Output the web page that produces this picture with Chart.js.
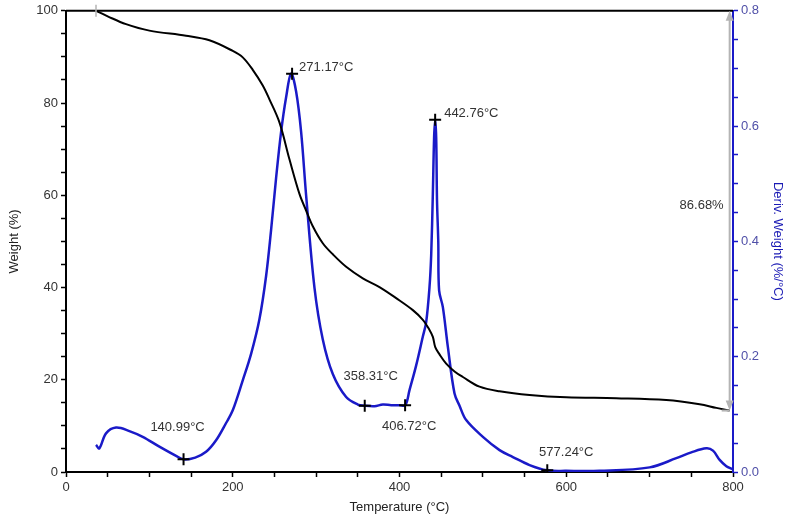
<!DOCTYPE html>
<html>
<head>
<meta charset="utf-8">
<script src="https://cdn.jsdelivr.net/npm/chart.js@4.4.1/dist/chart.umd.min.js"></script>
<style>
  html, body { margin: 0; padding: 0; background: #fff; }
  #wrap { width: 797px; height: 516px; }
</style>
</head>
<body>
<div id="wrap"><canvas id="graphCanvas"></canvas></div>
<script>
// weight curve (black)
const weightTemp = [36, 50, 72, 100, 144, 172, 200, 212, 224, 236, 244, 256, 268, 280, 288, 296, 308, 320, 336, 356, 376, 396, 416, 428, 436, 440, 443, 448, 456, 466, 476, 496, 520, 556, 600, 660, 720, 760, 780, 796];
const weightVal  = [100, 98.8, 97.1, 95.7, 94.6, 93.6, 91.3, 89.9, 87.2, 83.8, 80.8, 75.8, 67.8, 60.3, 56.7, 53.3, 49.6, 47.2, 44.5, 42.0, 40.1, 37.7, 35.1, 33.0, 30.8, 29.3, 27.0, 25.5, 23.5, 21.8, 20.6, 18.5, 17.5, 16.7, 16.2, 16.0, 15.6, 14.7, 13.9, 13.32];

// derivative curve (blue)
const derivTemp = [36, 40, 48, 60, 76, 92, 112, 132, 141, 155, 168, 180, 192, 200, 212, 222, 232, 240, 246, 252, 258, 264, 270, 276, 282, 288, 298, 308, 320, 336, 350, 358, 370, 380, 390, 400, 407, 412, 420, 428, 432, 436, 438, 440, 441.5, 442.8, 444, 445, 446.5, 447.5, 452, 458, 466, 472, 480, 500, 520, 536, 556, 577, 600, 640, 700, 732, 750, 768, 776, 784, 792, 799];
const derivVal  = [0.047, 0.041, 0.067, 0.077, 0.071, 0.061, 0.044, 0.028, 0.022, 0.025, 0.035, 0.055, 0.085, 0.107, 0.159, 0.205, 0.265, 0.34, 0.42, 0.51, 0.59, 0.65, 0.691, 0.66, 0.59, 0.48, 0.32, 0.23, 0.17, 0.13, 0.117, 0.115, 0.114, 0.117, 0.116, 0.116, 0.116, 0.142, 0.185, 0.235, 0.26, 0.321, 0.376, 0.483, 0.58, 0.611, 0.58, 0.471, 0.40, 0.315, 0.286, 0.217, 0.136, 0.115, 0.09, 0.061, 0.038, 0.026, 0.012, 0.003, 0.002, 0.002, 0.008, 0.024, 0.034, 0.041, 0.037, 0.021, 0.01, 0.005];

// marked peaks / valleys on derivative curve
const markTemp  = [140.99, 271.17, 358.31, 406.72, 442.76, 577.24];
const markDeriv = [0.022, 0.691, 0.115, 0.116, 0.611, 0.003];
const markText  = ['140.99°C', '271.17°C', '358.31°C', '406.72°C', '442.76°C', '577.24°C'];

// weight loss step
const lossStart = [36, 100];
const lossEnd   = [796, 13.32];
const lossText  = '86.68%';

const xTicks  = [0, 200, 400, 600, 800];
const yTicks  = [0, 20, 40, 60, 80, 100];
const y2Ticks = [0, 0.2, 0.4, 0.6, 0.8];

const FONT = "'Liberation Sans', Arial, sans-serif";

// label placement relative to the marker (px): dx, dy, align
const labelPos = [
  [-6, -32, 'center'],
  [7, -6, 'left'],
  [6, -29, 'center'],
  [4, 21, 'center'],
  [9, -6, 'left'],
  [19, -18, 'center']
];

const pairs = (xs, ys) => xs.map((x, i) => ({ x: x, y: ys[i] }));
const isTick = (v, list) => list.some(t => Math.abs(t - v) < 1e-6);

const extras = {
  id: 'extras',
  afterDatasetsDraw(chart) {
    const { ctx, chartArea, scales } = chart;
    const x = scales.x, y = scales.y, y2 = scales.y2;
    ctx.save();

    // top frame
    ctx.strokeStyle = '#000';
    ctx.lineWidth = 2;
    ctx.beginPath();
    ctx.moveTo(chartArea.left, chartArea.top);
    ctx.lineTo(chartArea.right, chartArea.top);
    ctx.stroke();

    // weight loss arrow
    const ax = x.getPixelForValue(lossEnd[0]);
    const ay1 = y.getPixelForValue(lossStart[1]);
    const ay2 = y.getPixelForValue(lossEnd[1]);
    ctx.strokeStyle = '#b4b4b4';
    ctx.fillStyle = '#b4b4b4';
    ctx.lineWidth = 2;
    ctx.beginPath();
    ctx.moveTo(ax, ay1 + 4);
    ctx.lineTo(ax, ay2 - 4);
    ctx.stroke();
    ctx.beginPath();
    ctx.moveTo(ax, ay1); ctx.lineTo(ax - 4, ay1 + 10); ctx.lineTo(ax + 4, ay1 + 10); ctx.closePath();
    ctx.fill();
    ctx.beginPath();
    ctx.moveTo(ax, ay2); ctx.lineTo(ax - 4, ay2 - 10); ctx.lineTo(ax + 4, ay2 - 10); ctx.closePath();
    ctx.fill();
    ctx.beginPath();
    ctx.moveTo(ax - 8, ay2); ctx.lineTo(ax, ay2);
    ctx.stroke();
    // start tick
    const sx = x.getPixelForValue(lossStart[0]);
    ctx.lineWidth = 1.5;
    ctx.beginPath();
    ctx.moveTo(sx, ay1 - 6); ctx.lineTo(sx, ay1 + 6);
    ctx.stroke();

    ctx.font = '13px ' + FONT;
    ctx.fillStyle = '#333';
    ctx.textBaseline = 'middle';
    ctx.textAlign = 'right';
    ctx.fillText(lossText, ax - 6, (ay1 + ay2) / 2 - 5);

    // marker labels
    markTemp.forEach((t, i) => {
      const px = x.getPixelForValue(t);
      const py = y2.getPixelForValue(markDeriv[i]);
      const p = labelPos[i];
      ctx.textAlign = p[2];
      ctx.fillText(markText[i], px + p[0], py + p[1]);
    });
    ctx.restore();
  }
};

new Chart(document.getElementById('graphCanvas'), {
  type: 'line',
  data: {
    datasets: [
      {
        label: 'marks',
        type: 'scatter',
        data: pairs(markTemp, markDeriv),
        yAxisID: 'y2',
        pointStyle: 'cross',
        pointRadius: 6,
        pointBorderWidth: 2,
        borderColor: '#000',
        backgroundColor: '#000'
      },
      {
        label: 'Weight',
        data: pairs(weightTemp, weightVal),
        yAxisID: 'y',
        borderColor: '#000',
        borderWidth: 2,
        pointRadius: 0,
        tension: 0.35
      },
      {
        label: 'Deriv. Weight',
        data: pairs(derivTemp, derivVal),
        yAxisID: 'y2',
        borderColor: '#1a1ac8',
        borderWidth: 2.5,
        pointRadius: 0,
        tension: 0.35
      }
    ]
  },
  options: {
    responsive: true,
    maintainAspectRatio: false,
    animation: false,
    layout: { padding: { top: 10, left: 0, right: 0, bottom: 0 } },
    plugins: { legend: { display: false }, tooltip: { enabled: false } },
    scales: {
      x: {
        type: 'linear',
        min: 0, max: 800,
        afterFit: s => { s.height = 44; },
        border: { color: '#000', width: 2 },
        grid: { drawOnChartArea: false, tickLength: 5, tickColor: '#000', tickWidth: 1.5 },
        ticks: {
          stepSize: 50, padding: 3, maxRotation: 0, autoSkip: false,
          color: '#333', font: { family: FONT, size: 13 },
          callback: v => isTick(v, xTicks) ? String(v) : ''
        },
        title: { display: true, text: 'Temperature (°C)', color: '#222', font: { family: FONT, size: 13 }, padding: { top: 0, bottom: 1 } }
      },
      y: {
        position: 'left',
        min: 0, max: 100,
        afterFit: s => { s.width = 66; },
        border: { color: '#000', width: 2 },
        grid: { drawOnChartArea: false, tickLength: 5, tickColor: '#000', tickWidth: 1.5 },
        ticks: {
          stepSize: 5, padding: 3, autoSkip: false,
          color: '#333', font: { family: FONT, size: 13 },
          callback: v => isTick(v, yTicks) ? String(v) : ''
        },
        title: { display: true, text: 'Weight (%)', color: '#222', font: { family: FONT, size: 13 }, padding: { top: 7, bottom: 0 } }
      },
      y2: {
        position: 'right',
        min: 0, max: 0.8,
        afterFit: s => { s.width = 64; },
        border: { color: '#1a1ac8', width: 2 },
        grid: { drawOnChartArea: false, tickLength: 5, tickColor: '#1a1ac8', tickWidth: 1.5 },
        ticks: {
          stepSize: 0.05, padding: 3, autoSkip: false,
          color: '#5050a8', font: { family: FONT, size: 13 },
          callback: v => isTick(v, y2Ticks) ? v.toFixed(1) : ''
        },
        title: { display: true, text: 'Deriv. Weight (%/°C)', color: '#1a1ab4', font: { family: FONT, size: 13 }, padding: { top: 12, bottom: 0 } }
      }
    }
  },
  plugins: [extras]
});
</script>
</body>
</html>
